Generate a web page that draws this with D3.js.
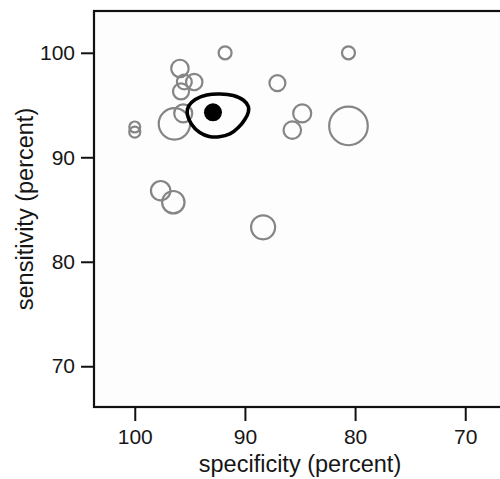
<!DOCTYPE html>
<html>
<head>
<meta charset="utf-8">
<script src="https://cdn.jsdelivr.net/npm/d3@7"></script>
<style>
  html, body { margin: 0; padding: 0; background: #ffffff; }
  svg { display: block; }
  text { font-family: "Liberation Sans", Arial, Helvetica, sans-serif; fill: #161616; }
</style>
</head>
<body>
<svg id="chart" width="500" height="479"></svg>
<script>
// ---- data ----
const studySpecificity = [91.8, 80.6, 95.9, 94.6, 95.5, 95.8, 95.6, 96.4, 100.0, 100.0, 87.05, 84.8, 85.7, 80.6, 97.65, 96.5, 88.35];
const studySensitivity = [100.0, 100.0, 98.5, 97.2, 97.2, 96.3, 94.2, 93.2, 92.9, 92.4, 97.1, 94.2, 92.6, 93.0, 86.8, 85.7, 83.3];
const studyWeight      = [42, 42, 76, 67, 55, 64, 81, 246, 30, 30, 64, 81, 77, 372, 94, 125, 144];

const summarySpecificity = [92.9];
const summarySensitivity = [94.3];

const regionSpecificity = [95.24, 95.10, 94.51, 93.47, 92.24, 91.06, 90.15, 89.69, 89.69, 90.01, 90.60, 91.37, 92.33, 93.24, 94.10, 94.83];
const regionSensitivity = [94.24, 94.91, 95.53, 95.96, 96.06, 95.91, 95.48, 94.86, 94.33, 93.62, 92.85, 92.23, 91.96, 91.99, 92.37, 93.14];

const xTicks = [100, 90, 80, 70];
const yTicks = [70, 80, 90, 100];
const xTitle = "specificity (percent)";
const yTitle = "sensitivity (percent)";

// ---- layout ----
const svg = d3.select("#chart");
const plot = { left: 94, right: 506, top: 11, bottom: 407 };

const x = d3.scaleLinear().domain([103.7, 66.3]).range([plot.left, plot.right]);
const y = d3.scaleLinear().domain([66.1, 104.0]).range([plot.bottom, plot.top]);
const r = d3.scaleSqrt().domain([0, d3.max(studyWeight)]).range([0, 19.3]);

// plot background + frame
svg.append("rect")
  .attr("x", plot.left).attr("y", plot.top)
  .attr("width", plot.right - plot.left).attr("height", plot.bottom - plot.top)
  .attr("fill", "#fdfdfd").attr("stroke", "#111").attr("stroke-width", 2.2);

// axes
const xAxis = svg.append("g")
  .attr("transform", `translate(0,${plot.bottom + 1})`)
  .call(d3.axisBottom(x).tickValues(xTicks).tickFormat(d3.format("d")).tickSize(13).tickSizeOuter(0).tickPadding(8));
const yAxis = svg.append("g")
  .attr("transform", `translate(${plot.left - 1},0)`)
  .call(d3.axisLeft(y).tickValues(yTicks).tickFormat(d3.format("d")).tickSize(12).tickSizeOuter(0).tickPadding(6));

[xAxis, yAxis].forEach(g => {
  g.select(".domain").remove();
  g.selectAll(".tick line").attr("stroke", "#111").attr("stroke-width", 2);
  g.selectAll(".tick text").attr("font-size", 21).attr("fill", "#161616")
    .style("font-family", '"Liberation Sans", Arial, Helvetica, sans-serif');
});

// axis titles
svg.append("text")
  .attr("x", (plot.left + plot.right) / 2).attr("y", 472)
  .attr("text-anchor", "middle").attr("font-size", 23.5)
  .text(xTitle);
svg.append("text")
  .attr("transform", `translate(33,${(plot.top + plot.bottom) / 2}) rotate(-90)`)
  .attr("text-anchor", "middle").attr("font-size", 23.5)
  .text(yTitle);

// clip to plot
svg.append("clipPath").attr("id", "clip")
  .append("rect").attr("x", plot.left).attr("y", plot.top)
  .attr("width", plot.right - plot.left).attr("height", plot.bottom - plot.top);
const g = svg.append("g").attr("clip-path", "url(#clip)");

// study circles
const studies = studySpecificity.map((s, i) => ({ spec: s, sens: studySensitivity[i], w: studyWeight[i] }));
g.selectAll("circle.study").data(studies).join("circle")
  .attr("class", "study")
  .attr("cx", d => x(d.spec)).attr("cy", d => y(d.sens)).attr("r", d => r(d.w))
  .attr("fill", "none").attr("stroke", "#858585").attr("stroke-width", 2.2);

// confidence region
const region = regionSpecificity.map((s, i) => [s, regionSensitivity[i]]);
g.append("path")
  .datum(region)
  .attr("d", d3.line().x(d => x(d[0])).y(d => y(d[1])).curve(d3.curveCatmullRomClosed.alpha(0.5)))
  .attr("fill", "none").attr("stroke", "#000").attr("stroke-width", 3.6);

// summary point
g.selectAll("circle.summary").data(summarySpecificity.map((s, i) => [s, summarySensitivity[i]])).join("circle")
  .attr("class", "summary")
  .attr("cx", d => x(d[0])).attr("cy", d => y(d[1])).attr("r", 9)
  .attr("fill", "#000");
</script>
</body>
</html>
